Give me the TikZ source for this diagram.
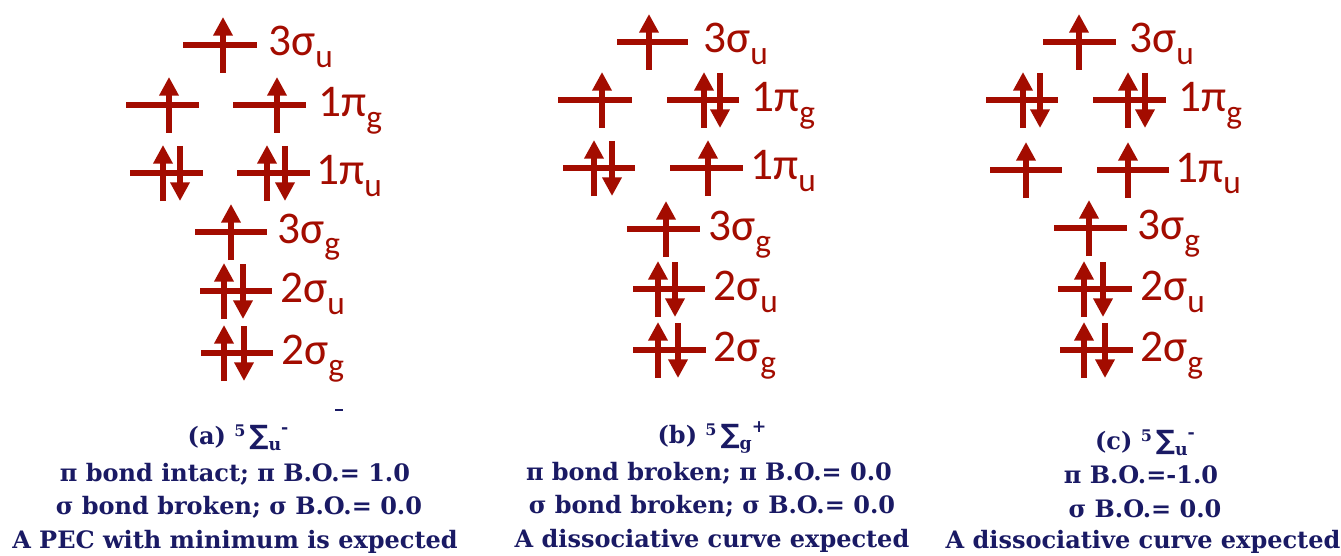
\documentclass[tikz,border=0pt]{standalone}
\usepackage{fontspec}
\usepackage{tikz}
\usetikzlibrary{arrows.meta}
\newfontfamily\orbfont{Carlito}
\newfontfamily\capfont{DejaVu Serif}
\newfontfamily\symfont{DejaVu Sans}
\definecolor{mored}{RGB}{163,12,0}
\definecolor{capblue}{RGB}{26,26,100}
\newcommand{\osub}[1]{\raisebox{-9pt}{\fontsize{25}{25}\selectfont #1}}
\newcommand{\term}[2]{\raisebox{6pt}{\fontsize{12}{12}\selectfont 5}\,{\symfont\bfseries\fontsize{20}{20}\selectfont ∑}\raisebox{-5pt}{\fontsize{13}{13}\selectfont #1}\raisebox{8pt}{\fontsize{13}{13}\selectfont #2}}

\begin{document}
\begin{tikzpicture}[x=0.75pt, y=-0.75pt,
  level/.style={line width=4.5pt, mored},
  spin/.style={line width=4pt, mored, -{Triangle[length=14pt,width=14pt]}},
  orb/.style={font={\orbfont\fontsize{34}{34}\selectfont}, text=mored, inner sep=0pt, anchor=base west},
  capline/.style={font={\capfont\bfseries\fontsize{18}{18}\selectfont}, text=capblue, inner sep=0pt, anchor=base}]
  \useasboundingbox (0,0) rectangle (1341,556);

  % (a)
  \draw[level] (183,45) -- (257,45);
  \draw[spin] (223,45) ++(0,28) -- ++(0,-56);
  \node[orb] (a3su) at (268,56) {3σ\osub{u}};
  \draw[level] (126,105) -- (199,105);
  \draw[spin] (169,105) ++(0,28) -- ++(0,-56);
  \draw[level] (233,105) -- (306,105);
  \draw[spin] (277,105) ++(0,28) -- ++(0,-56);
  \node[orb] (a1pg) at (318,117) {1π\osub{g}};
  \draw[level] (130,173) -- (203,173);
  \draw[spin] (163,173) ++(0,28) -- ++(0,-56);
  \draw[spin] (180,173) ++(0,-27) -- ++(0,55);
  \draw[level] (237,173) -- (310,173);
  \draw[spin] (267,173) ++(0,28) -- ++(0,-56);
  \draw[spin] (285,173) ++(0,-27) -- ++(0,55);
  \node[orb] (a1pu) at (316,185) {1π\osub{u}};
  \draw[level] (195,232) -- (267,232);
  \draw[spin] (231,232) ++(0,28) -- ++(0,-56);
  \node[orb] (a3sg) at (277,243) {3σ\osub{g}};
  \draw[level] (200,291) -- (272,291);
  \draw[spin] (224,291) ++(0,28) -- ++(0,-56);
  \draw[spin] (243,291) ++(0,-27) -- ++(0,55);
  \node[orb] (a2su) at (280,302) {2σ\osub{u}};
  \draw[level] (201,353) -- (273,353);
  \draw[spin] (224,353) ++(0,28) -- ++(0,-56);
  \draw[spin] (244,353) ++(0,-27) -- ++(0,55);
  \node[orb] (a2sg) at (281,364) {2σ\osub{g}};
  \draw[capblue, line width=1.5pt] (335,410) -- (343,410);
  \node[capline] (capa1) at (238,444) {(a) \term{u}{-}};
  \node[capline] (capa2) at (235,481) {π bond intact; π B.O.= 1.0};
  \node[capline] (capa3) at (239,514) {σ bond broken; σ B.O.= 0.0};
  \node[capline] (capa4) at (235,548) {A PEC with minimum is expected};

  % (b)
  \draw[level] (617,42) -- (688,42);
  \draw[spin] (649,42) ++(0,28) -- ++(0,-56);
  \node[orb] (b3su) at (703,53) {3σ\osub{u}};
  \draw[level] (558,100) -- (632,100);
  \draw[spin] (602,100) ++(0,28) -- ++(0,-56);
  \draw[level] (667,100) -- (739,100);
  \draw[spin] (704,100) ++(0,28) -- ++(0,-56);
  \draw[spin] (720,100) ++(0,-27) -- ++(0,55);
  \node[orb] (b1pg) at (751,112) {1π\osub{g}};
  \draw[level] (563,168) -- (635,168);
  \draw[spin] (594,168) ++(0,28) -- ++(0,-56);
  \draw[spin] (612,168) ++(0,-27) -- ++(0,55);
  \draw[level] (670,168) -- (743,168);
  \draw[spin] (708,168) ++(0,28) -- ++(0,-56);
  \node[orb] (b1pu) at (750,180) {1π\osub{u}};
  \draw[level] (627,229) -- (700,229);
  \draw[spin] (666,229) ++(0,28) -- ++(0,-56);
  \node[orb] (b3sg) at (708,240) {3σ\osub{g}};
  \draw[level] (633,289) -- (705,289);
  \draw[spin] (658,289) ++(0,28) -- ++(0,-56);
  \draw[spin] (675,289) ++(0,-27) -- ++(0,55);
  \node[orb] (b2su) at (713,300) {2σ\osub{u}};
  \draw[level] (633,350) -- (706,350);
  \draw[spin] (658,350) ++(0,28) -- ++(0,-56);
  \draw[spin] (678,350) ++(0,-27) -- ++(0,55);
  \node[orb] (b2sg) at (713,361) {2σ\osub{g}};
  \node[capline] (capb1) at (712,443) {(b) \term{g}{+}};
  \node[capline] (capb2) at (709,480) {π bond broken; π B.O.= 0.0};
  \node[capline] (capb3) at (712,513) {σ bond broken; σ B.O.= 0.0};
  \node[capline] (capb4) at (712,547) {A dissociative curve expected};

  % (c)
  \draw[level] (1043,42) -- (1116,42);
  \draw[spin] (1079,42) ++(0,28) -- ++(0,-56);
  \node[orb] (c3su) at (1129,53) {3σ\osub{u}};
  \draw[level] (986,100) -- (1058,100);
  \draw[spin] (1023,100) ++(0,28) -- ++(0,-56);
  \draw[spin] (1040,100) ++(0,-27) -- ++(0,55);
  \draw[level] (1093,100) -- (1166,100);
  \draw[spin] (1128,100) ++(0,28) -- ++(0,-56);
  \draw[spin] (1145,100) ++(0,-27) -- ++(0,55);
  \node[orb] (c1pg) at (1178,112) {1π\osub{g}};
  \draw[level] (990,170) -- (1062,170);
  \draw[spin] (1026,170) ++(0,28) -- ++(0,-56);
  \draw[level] (1097,170) -- (1169,170);
  \draw[spin] (1128,170) ++(0,28) -- ++(0,-56);
  \node[orb] (c1pu) at (1175,182) {1π\osub{u}};
  \draw[level] (1054,228) -- (1127,228);
  \draw[spin] (1089,228) ++(0,28) -- ++(0,-56);
  \node[orb] (c3sg) at (1137,239) {3σ\osub{g}};
  \draw[level] (1058,289) -- (1132,289);
  \draw[spin] (1084,289) ++(0,28) -- ++(0,-56);
  \draw[spin] (1103,289) ++(0,-27) -- ++(0,55);
  \node[orb] (c2su) at (1140,300) {2σ\osub{u}};
  \draw[level] (1060,350) -- (1133,350);
  \draw[spin] (1084,350) ++(0,28) -- ++(0,-56);
  \draw[spin] (1105,350) ++(0,-27) -- ++(0,55);
  \node[orb] (c2sg) at (1140,361) {2σ\osub{g}};
  \node[capline] (capc1) at (1145,449) {(c) \term{u}{-}};
  \node[capline] (capc2) at (1141,483) {π B.O.=-1.0};
  \node[capline] (capc3) at (1145,517) {σ B.O.= 0.0};
  \node[capline] (capc4) at (1143,548) {A dissociative curve expected};
\end{tikzpicture}
\end{document}
